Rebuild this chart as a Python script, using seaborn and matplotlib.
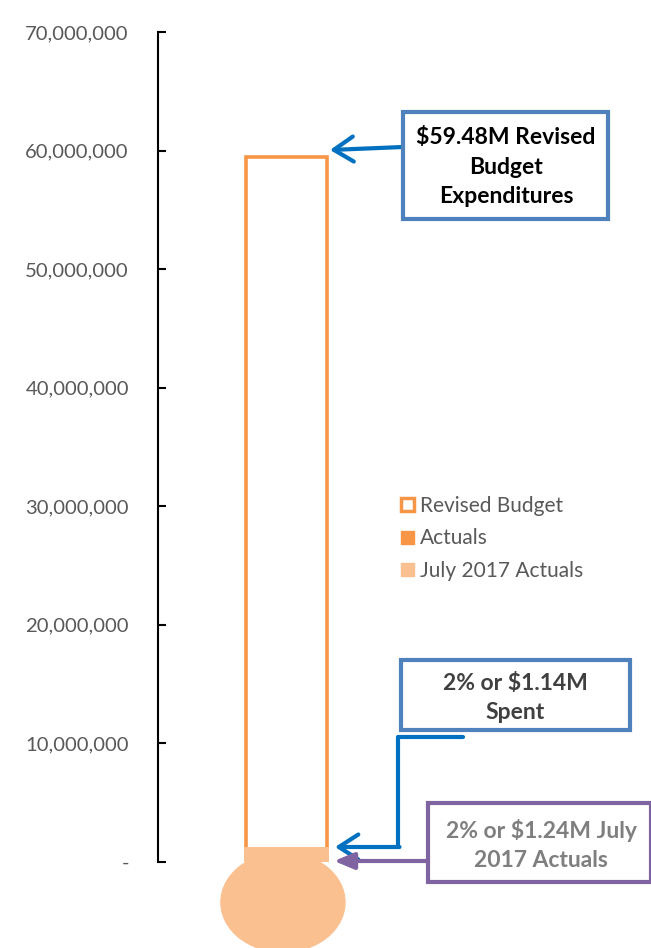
import matplotlib
matplotlib.use("Agg")
import matplotlib.pyplot as plt
import matplotlib.patches as mpatches
from matplotlib.lines import Line2D
from matplotlib.ticker import FuncFormatter
import seaborn as sns
import pandas as pd

# data
categories = ["FY2018"]
revised_budget = [59480000]
actuals = [1140000]
july_actuals = [1240000]
legend_labels = ["Revised Budget", "Actuals", "July 2017 Actuals"]

orange = "#F79646"
light_orange = "#FAC090"
blue = "#0070C0"
box_blue = "#4F81BD"
purple = "#8064A2"
grey = "#595959"

sns.set_theme(style="white")
plt.rcParams["font.family"] = ["Lato", "DejaVu Sans"]

W, H = 651, 948
fig = plt.figure(figsize=(W / 100, H / 100), dpi=100)


def fx(x, y):
    # pixel -> figure fraction
    return (x / W, 1 - y / H)


ax = fig.add_axes([158 / W, 1 - 862 / H, (W - 158) / W, (862 - 32) / H])

df = pd.DataFrame({"cat": categories, "budget": revised_budget,
                   "actual": actuals, "july": july_actuals})

sns.barplot(data=df, x="cat", y="budget", ax=ax, color="white", width=0.8,
            edgecolor=orange, linewidth=2.6, zorder=2)
sns.barplot(data=df, x="cat", y="actual", ax=ax, color=orange, width=0.8,
            linewidth=0, saturation=1, zorder=3)
sns.barplot(data=df, x="cat", y="july", ax=ax, color=light_orange, width=0.84,
            linewidth=0, saturation=1, zorder=4)

ax.set_xlim(-1.269, 3.6)
ax.set_ylim(0, 70000000)
ax.set_yticks(range(0, 70000001, 10000000))
ax.yaxis.set_major_formatter(FuncFormatter(lambda v, p: "-" if v == 0 else f"{v:,.0f}"))
ax.set_xlabel("")
ax.set_ylabel("")
ax.set_xticks([])
for s in ["top", "right", "bottom"]:
    ax.spines[s].set_visible(False)
ax.spines["left"].set_color("black")
ax.spines["left"].set_linewidth(1.5)
ax.tick_params(axis="y", direction="in", length=6, width=1.5, color="black",
               labelsize=14.6, labelcolor=grey, pad=21, left=True)
ax.set_facecolor("white")

# thermometer bulb
bulb = mpatches.Ellipse((-0.035, -3400000), 1.225, 8400000, color=light_orange,
                        clip_on=False, zorder=4)
ax.add_patch(bulb)

# legend
handles = [mpatches.Patch(facecolor="white", edgecolor=orange, linewidth=2.5),
           mpatches.Patch(facecolor=orange, edgecolor=orange),
           mpatches.Patch(facecolor=light_orange, edgecolor=light_orange)]
leg = fig.legend(handles, legend_labels, loc="upper left",
                 bbox_to_anchor=fx(401, 496), frameon=False, fontsize=15,
                 handlelength=0.6, handleheight=0.6, handletextpad=0.3,
                 labelspacing=0.6, borderaxespad=0, borderpad=0)
for t in leg.get_texts():
    t.set_color(grey)


# annotation boxes
def box(x0, y0, x1, y1, ec):
    r = mpatches.Rectangle(fx(x0, y1), (x1 - x0) / W, (y1 - y0) / H,
                           transform=fig.transFigure, facecolor="white",
                           edgecolor=ec, linewidth=3, zorder=5)
    fig.add_artist(r)


box(403, 112, 608, 219, box_blue)
fig.text(*fx(506, 167), "$59.48M Revised\nBudget\nExpenditures", ha="center",
         va="center", fontsize=16.5, fontweight="bold", color="black",
         linespacing=1.5, zorder=6)

box(401, 660, 630, 730, box_blue)
fig.text(*fx(515, 698), "2% or $1.14M\nSpent", ha="center", va="center",
         fontsize=16.5, fontweight="bold", color="#404040", linespacing=1.5,
         zorder=6)

box(428, 803, 651, 882, purple)
fig.text(*fx(541, 845), "2% or $1.24M July\n2017 Actuals", ha="center",
         va="center", fontsize=16.5, fontweight="bold", color="#7F7F7F",
         linespacing=1.5, zorder=6)

# arrows
ax.annotate("", xy=fx(330, 150), xycoords="figure fraction",
            xytext=fx(403, 147), textcoords="figure fraction",
            arrowprops=dict(arrowstyle="->,head_length=0.7,head_width=0.45",
                            color=blue, lw=3, mutation_scale=20,
                            shrinkA=0, shrinkB=0), zorder=6)

path_x = [463 / W, 398 / W, 398 / W]
path_y = [1 - 737 / H, 1 - 737 / H, 1 - 847 / H]
fig.add_artist(Line2D(path_x, path_y, color=blue, lw=3,
                      transform=fig.transFigure, zorder=6))
ax.annotate("", xy=fx(335, 847), xycoords="figure fraction",
            xytext=fx(399.5, 847), textcoords="figure fraction",
            arrowprops=dict(arrowstyle="->,head_length=0.7,head_width=0.45",
                            color=blue, lw=3, mutation_scale=20,
                            shrinkA=0, shrinkB=0), zorder=6)

ax.annotate("", xy=fx(334, 861), xycoords="figure fraction",
            xytext=fx(428, 861), textcoords="figure fraction",
            arrowprops=dict(arrowstyle="-|>,head_length=0.6,head_width=0.25",
                            color=purple, lw=3, mutation_scale=20,
                            shrinkA=0, shrinkB=0), zorder=6)

fig.savefig("out.png", dpi=100, facecolor="white")
